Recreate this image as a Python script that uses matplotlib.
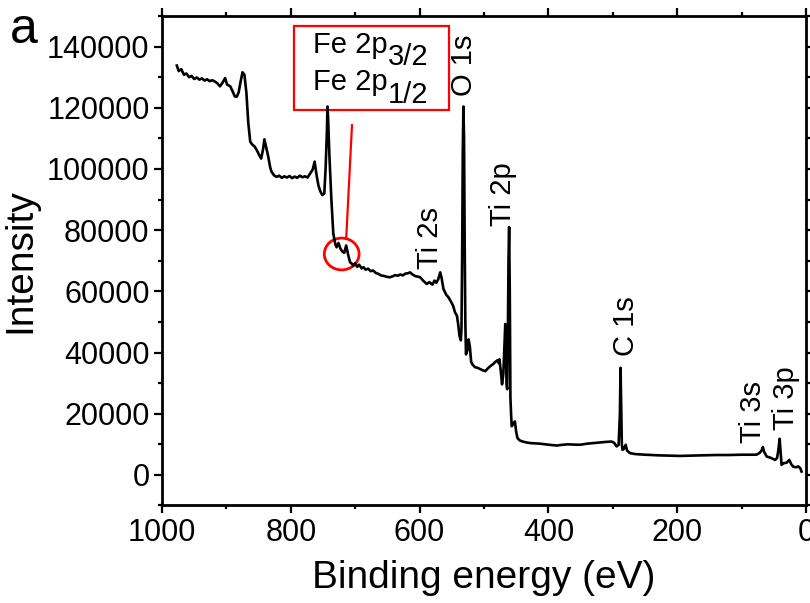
import matplotlib
matplotlib.use('Agg')
import matplotlib.pyplot as plt
from matplotlib.patches import Rectangle, Ellipse
from matplotlib.ticker import MultipleLocator

plt.rcParams['font.family'] = ['Liberation Sans', 'DejaVu Sans']

# XPS survey spectrum (binding energy in eV, intensity)
energia = [
    977, 974, 970, 966, 962, 958, 954, 950, 946, 942, 938, 934, 930, 926, 922, 918,
    914, 910, 906, 902, 899, 894, 890, 887, 884, 881, 878, 875, 872, 869, 866, 863,
    860, 856, 852, 849, 846, 843, 841, 838, 835, 832, 830, 826, 822, 818, 814, 810,
    806, 802, 798, 794, 790, 786, 782, 778, 774, 770, 766, 763, 760, 757, 754, 751,
    748, 746, 744, 743, 742, 740, 737, 734, 731, 729, 726, 723, 720, 717, 714, 711,
    708, 705, 703, 700, 697, 694, 690, 687, 684, 680, 676, 672, 668, 664, 660, 655,
    650, 646, 642, 638, 634, 630, 626, 622, 618, 615, 611, 607, 603, 599, 595, 591,
    589, 585, 580, 577, 574, 571, 568, 566, 563, 559, 555, 551, 548, 545, 542, 540,
    538, 536, 535, 534, 533, 532, 531, 530, 529, 528, 526, 524, 522, 520, 518, 514,
    510, 506, 502, 498, 494, 490, 486, 482, 479, 477, 476, 474, 472, 470, 468, 467,
    466, 465, 464, 463, 462, 461, 460, 459, 458, 457, 455, 452, 450, 448, 444, 440,
    434, 428, 420, 413, 405, 397, 387, 380, 370, 360, 351, 340, 330, 320, 310, 302,
    298, 294, 291, 289, 288, 287, 286, 285, 283, 280, 278, 275, 273, 265, 250, 230,
    210, 196, 180, 160, 140, 120, 100, 85, 77, 72, 69, 67, 65, 61, 55, 48,
    45, 43, 41, 40, 38, 35, 30, 26, 23, 20, 15, 12, 9, 7,
]
intensidad = [
    133800, 132000, 132600, 130800, 131200, 130000, 130400, 129400, 129900, 129200, 129600, 128900, 129300, 128700, 129000, 128600,
    128000, 127000, 128200, 129700, 127600, 127000, 125200, 123700, 123600, 125000, 128500, 131600, 130800, 125000, 115000, 108900,
    108000, 107300, 105800, 104500, 103400, 106500, 109700, 106800, 104000, 100500, 99100, 97900, 97400, 97800, 97100, 97600,
    97200, 97700, 97000, 97500, 97100, 97800, 97300, 97600, 97200, 98500, 99800, 102400, 98000, 94500, 92600, 91500,
    92000, 100000, 112000, 120400, 116000, 104000, 90000, 78800, 75500, 74400, 75800, 74000, 73000, 72600, 75000, 72000,
    69500, 69000, 68400, 69200, 68000, 68700, 67500, 67900, 67100, 67400, 66600, 66800, 66000, 65700, 65200, 65000,
    64700, 64600, 64900, 65300, 65100, 65500, 65200, 65800, 65900, 66200, 65500, 65000, 64800, 64600, 63600, 62800,
    62400, 63000, 62200, 63500, 62800, 64000, 66200, 64500, 60800, 59000, 58000, 56500, 55300, 53100, 52000, 49000,
    45400, 44000, 48000, 70000, 105000, 120400, 110000, 75000, 50000, 39400, 40500, 44300, 42000, 37000, 36100, 35200,
    35000, 34600, 34200, 33900, 34800, 35600, 36200, 37000, 37500, 36500, 37800, 34000, 29600, 33000, 44000, 49300,
    42000, 29600, 28000, 45000, 70000, 81000, 60000, 25300, 20000, 15900, 16500, 17500, 14000, 12000, 11200, 10900,
    10600, 10400, 10300, 10200, 10000, 9800, 9600, 9800, 10000, 9900, 9850, 10200, 10400, 10600, 10800, 10900,
    10500, 9300, 9800, 20000, 35000, 22000, 10000, 8200, 8500, 9850, 8000, 7400, 7100, 6800, 6600, 6400,
    6300, 6200, 6300, 6400, 6500, 6500, 6600, 6600, 6600, 7200, 8000, 9100, 7500, 6000, 5600, 4900,
    5500, 8000, 11800, 9000, 3300, 3800, 4000, 4900, 3500, 2700, 2500, 2800, 2200, 1100,
]

# peak labels: text, energy, intensity of the label foot
picos = ['O 1s', 'Ti 2p', 'Ti 2s', 'C 1s', 'Ti 3s', 'Ti 3p']
picos_x = [531, 470, 584, 280, 82, 31]
picos_y = [123800, 81400, 67300, 38800, 10500, 14800]

fig = plt.figure(figsize=(8.1, 6.03), dpi=100)
ax = fig.add_axes([0.2, 0.1617, 0.7951, 0.8118])

ax.plot(energia, intensidad, color='black', lw=1.9)

ax.set_xlim(1000, 0)
ax.set_ylim(-10000, 150000)
ax.xaxis.set_major_locator(MultipleLocator(200))
ax.xaxis.set_minor_locator(MultipleLocator(100))
ax.yaxis.set_major_locator(MultipleLocator(20000))
ax.yaxis.set_minor_locator(MultipleLocator(10000))
ax.tick_params(which='both', direction='out', top=True, right=True, width=1.6,
               labelsize=22, pad=3)
ax.tick_params(which='major', length=6)
ax.tick_params(which='minor', length=3)
for s in ax.spines.values():
    s.set_linewidth(2)

ax.set_xlabel('Binding energy (eV)', fontsize=28, labelpad=9)
ax.set_ylabel('Intensity', fontsize=28, labelpad=6)
fig.text(0.012, 0.928, 'a', fontsize=36)

for nombre, px, py in zip(picos, picos_x, picos_y):
    ax.text(px, py, nombre, rotation=90, ha='center', va='bottom', fontsize=21)

# Fe 2p box, pointer line and circle
ax.add_patch(Rectangle((795, 119200), 554 - 795, 146800 - 119200,
                       fill=False, ec='red', lw=1.6, clip_on=False))
for yb, sub in [(138000, '3/2'), (125800, '1/2')]:
    t = ax.text(765, yb, 'Fe 2p', fontsize=21, ha='left', va='baseline')
    ax.annotate(sub, xy=(1, 0), xycoords=t, xytext=(0, -9), textcoords='offset points',
                fontsize=21, ha='left', va='bottom')
ax.plot([705, 714], [114300, 77200], color='red', lw=1.6)
ax.add_patch(Ellipse((721, 72200), 54, 10400, fill=False, ec='red', lw=2))

fig.savefig('out.png', dpi=100)
